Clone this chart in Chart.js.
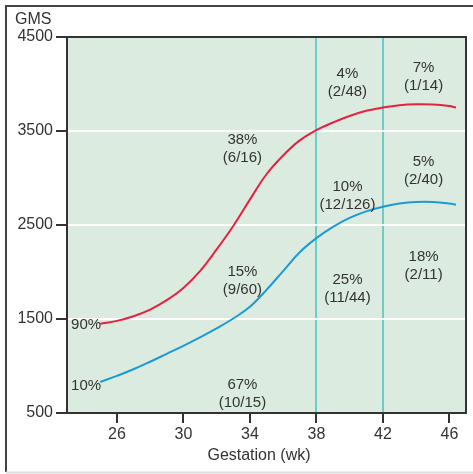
<!DOCTYPE html>
<html>
<head>
<meta charset="utf-8">
<script src="https://cdn.jsdelivr.net/npm/chart.js@4/dist/chart.umd.min.js"></script>
<style>
  html, body { margin: 0; padding: 0; background: #fff; }
  #wrap { width: 473px; height: 474px; }
</style>
</head>
<body>
<div id="wrap"><canvas id="canvas" width="473" height="474"></canvas></div>
<script>
// gestation weeks and growth curves (grams)
var weeks = [25, 26, 27, 28, 29, 30, 31, 32, 33, 34, 35, 36, 37, 38, 39, 40, 41, 42, 43, 44, 45, 46, 46.4];
var p90 = [1450, 1480, 1530, 1600, 1700, 1830, 2010, 2240, 2490, 2770, 3040, 3240, 3400, 3510, 3590, 3660, 3715, 3750, 3775, 3785, 3782, 3765, 3750];
var p10 = [830, 895, 965, 1045, 1130, 1215, 1305, 1400, 1505, 1630, 1810, 2010, 2210, 2360, 2480, 2575, 2645, 2695, 2728, 2745, 2745, 2728, 2715];

var xTicks = [26, 30, 34, 38, 42, 46];
var yTicks = [500, 1500, 2500, 3500, 4500];
var markedWeeks = [38, 42];

// mortality notes, placed in data space (week, GMS)
var noteText = [
  ["90%"], ["10%"],
  ["38%", "(6/16)"], ["15%", "(9/60)"], ["67%", "(10/15)"],
  ["4%", "(2/48)"], ["10%", "(12/126)"], ["25%", "(11/44)"],
  ["7%", "(1/14)"], ["5%", "(2/40)"], ["18%", "(2/11)"]
];
var noteWeek = [24.15, 24.15, 33.55, 33.55, 33.55, 39.87, 39.87, 39.87, 44.45, 44.45, 44.45];
var noteGms = [1436, 787, 3309, 1904, 702, 4016, 2809, 1819, 4074, 3074, 2064];

var yTitle = "GMS";
var xTitle = "Gestation (wk)";

var FONT = "'Liberation Sans', Arial, sans-serif";
var INK = "#333";

function toPoints(vals) {
  return weeks.map(function (w, i) {
    return { x: w, y: vals[i] };
  });
}

var decor = {
  id: "decor",
  beforeDraw: function (chart) {
    var ctx = chart.ctx;
    var a = chart.chartArea;
    ctx.save();
    ctx.fillStyle = "#fff";
    ctx.fillRect(0, 0, chart.width, chart.height);
    // outer frame
    ctx.strokeStyle = "#444";
    ctx.lineWidth = 2;
    ctx.beginPath();
    ctx.moveTo(6, 472);
    ctx.lineTo(6, 6);
    ctx.lineTo(473, 6);
    ctx.stroke();
    ctx.strokeStyle = "#ddd";
    ctx.beginPath();
    ctx.moveTo(6, 472.5);
    ctx.lineTo(473, 472.5);
    ctx.stroke();
    // plot background
    ctx.fillStyle = "#dcebdf";
    ctx.fillRect(a.left, a.top, a.right - a.left, a.bottom - a.top);
    ctx.restore();
  },
  afterDatasetsDraw: function (chart) {
    var ctx = chart.ctx;
    var a = chart.chartArea;
    var xs = chart.scales.x;
    var ys = chart.scales.y;
    ctx.save();
    ctx.strokeStyle = INK;
    ctx.lineWidth = 2;
    ctx.strokeRect(a.left, a.top, a.right - a.left, a.bottom - a.top);

    ctx.fillStyle = INK;
    ctx.font = "15px " + FONT;
    ctx.textAlign = "center";
    ctx.textBaseline = "middle";
    noteText.forEach(function (lines, i) {
      var cx = xs.getPixelForValue(noteWeek[i]);
      var cy = ys.getPixelForValue(noteGms[i]);
      var lh = 18;
      var y0 = cy - (lines.length - 1) * lh / 2;
      lines.forEach(function (t, j) {
        ctx.fillText(t, cx, y0 + j * lh);
      });
    });

    ctx.font = "16px " + FONT;
    ctx.textAlign = "left";
    ctx.fillText(yTitle, 15, 20);
    ctx.textAlign = "center";
    ctx.fillText(xTitle, 259, 456);
    ctx.restore();
  }
};

var ctx = document.getElementById("canvas").getContext("2d");
var myChart = new Chart(ctx, {
  type: "line",
  data: {
    datasets: [
      {
        label: "90%",
        data: toPoints(p90),
        borderColor: "#e8213f",
        borderWidth: 2,
        pointRadius: 0,
        tension: 0.4,
        fill: false
      },
      {
        label: "10%",
        data: toPoints(p10),
        borderColor: "#1b9ad8",
        borderWidth: 2,
        pointRadius: 0,
        tension: 0.4,
        fill: false
      }
    ]
  },
  options: {
    responsive: false,
    animation: false,
    layout: { padding: { top: 37, right: 7, left: 0, bottom: 0 } },
    plugins: {
      legend: { display: false },
      tooltip: { enabled: false }
    },
    scales: {
      x: {
        type: "linear",
        min: 23,
        max: 47,
        afterBuildTicks: function (scale) {
          scale.ticks = xTicks.map(function (v) { return { value: v }; });
        },
        afterFit: function (scale) { scale.height = 61; },
        border: { display: false },
        grid: {
          color: function (c) {
            return c.tick && markedWeeks.indexOf(c.tick.value) >= 0 ? "#6fcaca" : "rgba(0,0,0,0)";
          },
          lineWidth: 2,
          tickColor: INK,
          tickLength: 10,
          tickWidth: 2
        },
        ticks: {
          autoSkip: false,
          maxRotation: 0,
          padding: 2,
          color: INK,
          font: { family: FONT, size: 16 },
          callback: function (v) { return String(v); }
        }
      },
      y: {
        min: 500,
        max: 4500,
        afterBuildTicks: function (scale) {
          scale.ticks = yTicks.map(function (v) { return { value: v }; });
        },
        afterFit: function (scale) { scale.width = 67; },
        border: { display: false },
        grid: {
          color: function (c) {
            var v = c.tick ? c.tick.value : 0;
            return v === 500 || v === 4500 ? "rgba(0,0,0,0)" : "#ffffff";
          },
          lineWidth: 2,
          tickColor: INK,
          tickLength: 11,
          tickWidth: 2
        },
        ticks: {
          padding: 3,
          color: INK,
          font: { family: FONT, size: 16 },
          callback: function (v) { return String(v); }
        }
      }
    }
  },
  plugins: [decor]
});
</script>
</body>
</html>
